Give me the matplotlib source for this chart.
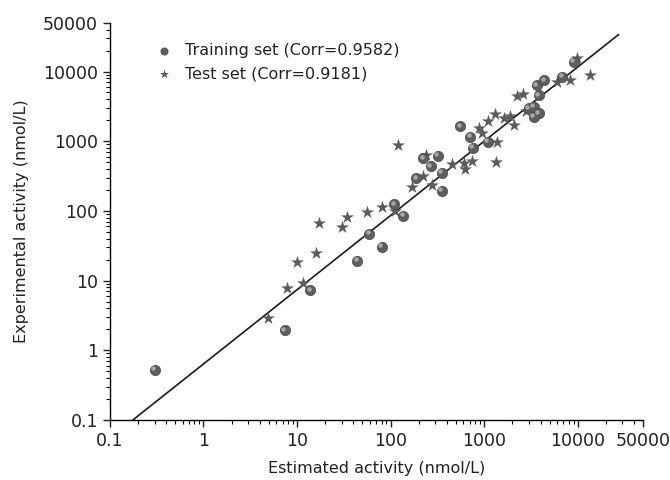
import numpy as np
import matplotlib
matplotlib.use('Agg')
import matplotlib.pyplot as plt
from matplotlib import ticker, transforms

# Training set (estimated, experimental)
train_x = [0.3, 7.4, 13.8, 44, 80, 59, 109, 137, 187, 224, 270, 317, 353, 353,
           554, 708, 757, 1085, 2980, 3370, 3810, 3370, 3660, 4390, 3810, 6800, 9000]
train_y = [0.53, 1.95, 7.3, 19.3, 30.6, 47, 124, 85, 294, 570, 440, 620, 350, 195,
           1650, 1160, 810, 985, 2965, 3130, 2515, 2250, 6400, 7550, 4600, 8400, 13800]

# Test set (estimated, experimental)
test_x = [4.9, 7.9, 10, 11.7, 16, 17, 30, 34, 56, 80, 112, 120, 169, 224, 238, 276,
          451, 601, 627, 738, 885, 944, 1085, 1290, 1610, 1900, 2060, 1370, 1340,
          2240, 2590, 2800, 6000, 8300, 9800, 13400]
test_y = [2.88, 7.9, 18.3, 9.3, 24.6, 68, 58, 81, 95, 113, 100, 880, 218, 320, 630, 235,
          471, 482, 400, 520, 1530, 1320, 1970, 2450, 2130, 2300, 1700, 985, 500,
          4450, 4700, 2700, 7150, 7550, 15500, 8900]

# fitted line end points
fit_x = [0.176, 27200]
fit_y = [0.1, 33800]

tick_vals = [0.1, 1, 10, 100, 1000, 10000, 50000]
tick_labels = ['0.1', '1', '10', '100', '1000', '10000', '50000']

plt.rcParams['font.family'] = 'DejaVu Sans'
fig = plt.figure(figsize=(6.7, 4.8), dpi=100)
ax = fig.add_axes([0.164, 0.125, 0.796, 0.8275])

ax.plot(fit_x, fit_y, color='#1a1a1a', lw=1.2, zorder=2)

ax.scatter(test_x, test_y, marker='*', s=95, color='#5c5c5c', linewidths=0,
           zorder=3, label='Test set (Corr=0.9181)')
ax.scatter(train_x, train_y, marker='o', s=55, color='#5e5e5e', edgecolors='#4a4a4a',
           linewidths=0.5, zorder=4, label='Training set (Corr=0.9582)')
hl = transforms.offset_copy(ax.transData, fig=fig, x=-1.5, y=1.5, units='dots')
ax.scatter(train_x, train_y, marker='o', s=10, color='#a8a8a8', linewidths=0,
           zorder=5, transform=hl)

ax.set_xscale('log')
ax.set_yscale('log')
ax.set_xlim(0.1, 50000)
ax.set_ylim(0.1, 50000)

for axis in (ax.xaxis, ax.yaxis):
    axis.set_major_locator(ticker.FixedLocator(tick_vals))
    axis.set_major_formatter(ticker.FixedFormatter(tick_labels))
    axis.set_minor_locator(ticker.LogLocator(base=10, subs=np.arange(2, 10), numticks=20))
    axis.set_minor_formatter(ticker.NullFormatter())

ax.spines['top'].set_visible(False)
ax.spines['right'].set_visible(False)
ax.spines['left'].set_linewidth(1.0)
ax.spines['bottom'].set_linewidth(1.0)
ax.tick_params(which='major', direction='out', length=5, width=1, labelsize=12.5,
               colors='#222222')
ax.tick_params(which='minor', direction='out', length=3, width=0.8)

ax.set_xlabel('Estimated activity (nmol/L)', fontsize=11.5, color='#222222', labelpad=8)
ax.set_ylabel('Experimental activity (nmol/L)', fontsize=11.5, color='#222222', labelpad=10)

handles, labels = ax.get_legend_handles_labels()
leg = ax.legend(handles[::-1], labels[::-1], loc='upper left', bbox_to_anchor=(0.045, 0.985),
                frameon=False, fontsize=11.5, handletextpad=0.3, labelspacing=0.5,
                markerscale=0.7)
for t in leg.get_texts():
    t.set_color('#222222')

fig.savefig('out.png', dpi=100)
